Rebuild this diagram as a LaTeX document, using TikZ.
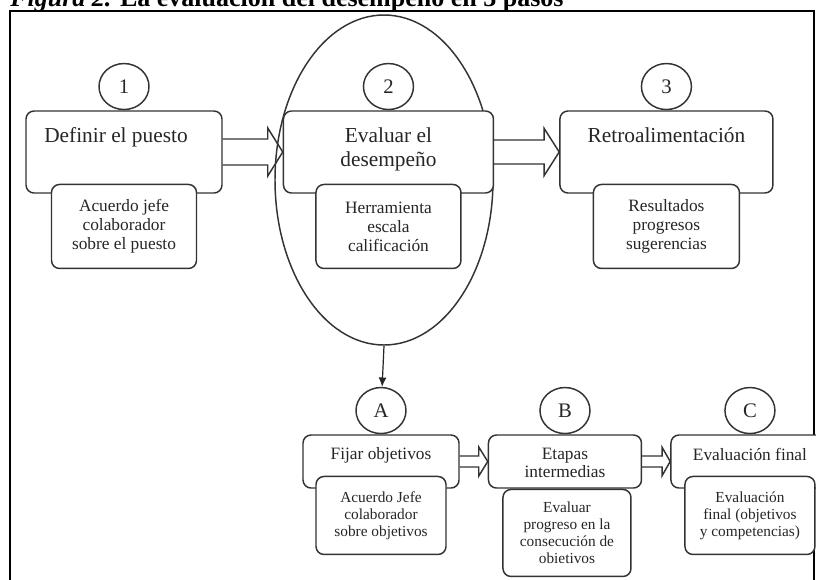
\documentclass[tikz,border=0pt]{standalone}
\usepackage{fontspec}
\setmainfont{Liberation Serif}
\usepackage{tikz}
\usetikzlibrary{positioning,calc}
\usetikzlibrary{arrows,arrows.meta,shapes}
\tikzstyle{mainbox} = [rectangle,rounded corners=6pt,draw=black!80,line width=1.1pt,fill=white,inner sep=0pt]
\tikzstyle{subbox} = [rectangle,rounded corners=6pt,draw=black!80,line width=1.1pt,fill=white,align=center,inner sep=0pt,text=black!85]
\tikzstyle{num} = [ellipse,draw=black!80,line width=1.1pt,fill=white,minimum width=37.5pt,minimum height=34.5pt,inner sep=0pt,text=black!85,font=\fontsize{15.5}{15.5}\selectfont]
\tikzstyle{head} = [align=center,inner sep=0pt,text=black!85]
\tikzstyle{line} = [-{Latex[length=7pt,width=6pt]}]
\tikzstyle{dbl} = [draw=black!80,line width=1.1pt,line join=miter]
\newcommand{\topfont}{\fontsize{16}{18}\selectfont}
\newcommand{\topsub}{\fontsize{13}{14.25}\selectfont}
\newcommand{\lowfont}{\fontsize{13}{13.5}\selectfont}
\newcommand{\lowsub}{\fontsize{11.5}{12.75}\selectfont}
% hollow block arrow from #1 to #2: shaft half, head half, head length
\newcommand{\blockarrow}[5]{%
  \draw[dbl] ($(#1.east)+(0,-#3)$) -- ($(#2.west)+(-#5,-#3)$) -- ($(#2.west)+(-#5,-#4)$)
    -- (#2.west) -- ($(#2.west)+(-#5,#4)$) -- ($(#2.west)+(-#5,#3)$) -- ($(#1.east)+(0,#3)$);}

\begin{document}
\begin{tikzpicture}[x=0.75pt,y=-0.75pt]
    \useasboundingbox (0,0) rectangle (816,579);
    \node[anchor=base west,inner sep=0pt,font=\fontsize{19.5}{20}\selectfont\bfseries] (title) at (10,6.5) {\textit{Figura 2.} La evaluación del desempeño en 3 pasos};
    \draw[line width=1.5pt] (10,11) rectangle (814,600);
    % ellipse round step 2
    \node[ellipse,draw=black!80,line width=1.1pt,minimum width=163.5pt,minimum height=247.5pt,inner sep=0pt] (ev) at (384,180) {};
    % top row
    \node[mainbox,minimum width=147pt,minimum height=61.5pt] (b1) at (124,152) {};
    \node[mainbox,minimum width=157.5pt,minimum height=61.5pt,right=45pt of b1] (b2) {};
    \node[mainbox,minimum width=159.75pt,minimum height=61.5pt,right=48.75pt of b2] (b3) {};
    \node[head,font=\topfont,below=13pt of b1.north,xshift=-6pt] (t1) {Definir el puesto};
    \node[head,font=\topfont,below=13pt of b2.north] (t2) {Evaluar el\\desempeño};
    \node[head,font=\topfont,below=13pt of b3.north] (t3) {Retroalimentación};
    \node[num,above=0pt of b1] (c1) {1};
    \node[num,above=0pt of b2] (c2) {2};
    \node[num,above=0pt of b3] (c3) {3};
    \node[subbox,minimum width=108.75pt,minimum height=63pt,font=\topsub,below=-7.5pt of b1] (s1) {Acuerdo jefe\\colaborador\\sobre el puesto};
    \node[subbox,minimum width=108.75pt,minimum height=63pt,font=\topsub,below=-7.5pt of b2] (s2) {Herramienta\\escala\\calificación};
    \node[subbox,minimum width=109.5pt,minimum height=63pt,font=\topsub,below=-7.5pt of b3] (s3) {Resultados\\progresos\\sugerencias};
    % bottom row
    \node[mainbox,minimum width=117pt,minimum height=39.75pt] (bA) at (381,461.5) {};
    \node[mainbox,minimum width=114.75pt,minimum height=39.75pt,right=21pt of bA] (bB) {};
    \node[mainbox,minimum width=118.5pt,minimum height=39.75pt,right=21pt of bB] (bC) {};
    \node[head,font=\lowfont,below=10pt of bA.north] (tA) {Fijar objetivos};
    \node[head,font=\lowfont,below=10pt of bB.north] (tB) {Etapas\\intermedias};
    \node[head,font=\lowfont,below=10pt of bC.north] (tC) {Evaluación final};
    \node[num,above=0pt of bA] (cA) {A};
    \node[num,above=0pt of bB] (cB) {B};
    \node[num,above=0pt of bC] (cC) {C};
    \node[subbox,minimum width=97.5pt,minimum height=58.5pt,font=\lowsub,below=-9.75pt of bA] (sA) {Acuerdo Jefe\\colaborador\\sobre objetivos};
    \node[subbox,minimum width=96pt,minimum height=65.25pt,font=\lowsub,below=0pt of bB,xshift=1.5pt] (sB) {Evaluar\\progreso en la\\consecución de\\obietivos};
    \node[subbox,minimum width=97.5pt,minimum height=58.5pt,font=\lowsub,below=-9.75pt of bC] (sC) {Evaluación\\final (objetivos\\y competencias)};
    % connectors
    \blockarrow{b1}{b2}{13}{24}{15}
    \blockarrow{b2}{b3}{12}{23.5}{15}
    \blockarrow{bA}{bB}{5.5}{14.5}{9}
    \blockarrow{bB}{bC}{5.5}{14}{8}
    \draw[line,draw=black!85,fill=black!85,line width=0.9pt] (ev.south) -- (cA);
\end{tikzpicture}
\end{document}
